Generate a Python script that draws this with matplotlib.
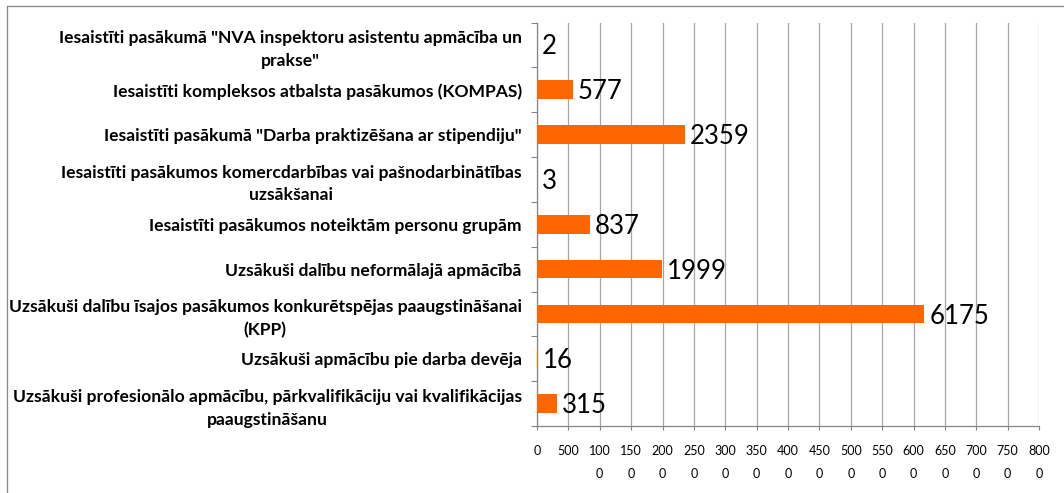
import matplotlib
matplotlib.use("Agg")
import matplotlib.pyplot as plt
from matplotlib.lines import Line2D
import numpy as np

categories = [
    'Iesaistīti pasākumā "NVA inspektoru asistentu apmācība un\nprakse"',
    'Iesaistīti kompleksos atbalsta pasākumos (KOMPAS)',
    'Iesaistīti pasākumā "Darba praktizēšana ar stipendiju"',
    'Iesaistīti pasākumos komercdarbības vai pašnodarbinātības\nuzsākšanai',
    'Iesaistīti pasākumos noteiktām personu grupām',
    'Uzsākuši dalību neformālajā apmācībā',
    'Uzsākuši dalību īsajos pasākumos konkurētspējas paaugstināšanai\n(KPP)',
    'Uzsākuši apmācību pie darba devēja',
    'Uzsākuši profesionālo apmācību, pārkvalifikāciju vai kvalifikācijas\npaaugstināšanu',
]
values = [2, 577, 2359, 3, 837, 1999, 6175, 16, 315]
x_ticks = list(range(0, 8001, 500))

ORANGE = '#FF6600'
GRID = '#A6A6A6'
AXC = '#868686'

W, H = 1064, 493
fig = plt.figure(figsize=(W / 100, H / 100), dpi=100)
left, right, top, bottom = 537, 1039, 22.5, 426
ax = fig.add_axes([left / W, 1 - bottom / H, (right - left) / W, (bottom - top) / H])

y = np.arange(len(categories))
ax.barh(y, values, height=0.42, color=ORANGE, zorder=3)
ax.set_ylim(len(categories) - 0.5, -0.5)
ax.set_xlim(0, 8000)

for yi, v in zip(y, values):
    ax.annotate(str(v), xy=(v, yi), xytext=(3.5, -1.5), textcoords='offset points',
                ha='left', va='center', fontsize=18.5, family='Lato', color='black', zorder=4)

ax.set_yticks(y)
ax.set_yticklabels(categories, fontsize=12.6, family='Lato', fontweight='bold',
                   multialignment='center', linespacing=1.5)
ax.tick_params(axis='y', which='major', length=0, pad=11)
ax.set_yticks(np.arange(-0.5, len(categories), 1), minor=True)
ax.tick_params(axis='y', which='minor', length=4, color=AXC, width=0.8)

def wrap(v):
    s = str(v)
    return s if len(s) <= 3 else s[:3] + '\n' + s[3:]

ax.set_xticks(x_ticks)
ax.set_xticklabels([wrap(v) for v in x_ticks], fontsize=9, family='Lato',
                   multialignment='center', linespacing=2.05, va='top')
ax.tick_params(axis='x', length=3, color=AXC, width=0.8, pad=11)

ax.grid(axis='x', color=GRID, linewidth=0.9, zorder=0)
ax.set_axisbelow(True)
for s in ['top', 'right']:
    ax.spines[s].set_visible(False)
for s in ['left', 'bottom']:
    ax.spines[s].set_color(AXC)
    ax.spines[s].set_linewidth(0.9)

# chart frame (clipped at right and bottom)
fig.add_artist(Line2D([7 / W, 1.0], [1 - 6 / H, 1 - 6 / H], color=AXC, linewidth=0.9))
fig.add_artist(Line2D([7 / W, 7 / W], [1 - 6 / H, 0.0], color=AXC, linewidth=0.9))

fig.savefig('out.png', dpi=100)
